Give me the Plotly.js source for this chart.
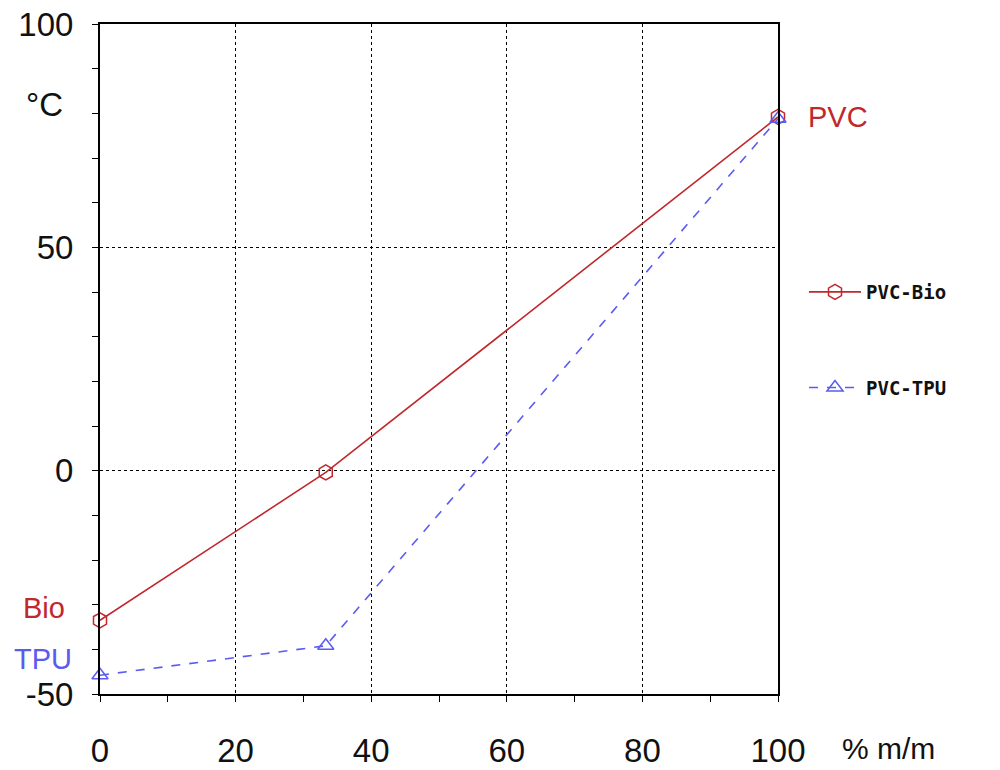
<!DOCTYPE html>
<html>
<head>
<meta charset="utf-8">
<script src="https://cdn.plot.ly/plotly-3.0.1.min.js"></script>
<style>html,body{margin:0;padding:0;background:#fff;}#chart{width:1000px;height:770px;}</style>
</head>
<body>
<div id="chart"></div>
<script>
var composition = [0, 33.3, 100];
var pvcBio = [-33.5, -0.4, 79.2];
var pvcTpu = [-45.8, -39.2, 78.8];
var seriesNames = ["PVC-Bio", "PVC-TPU"];
var xTicks = [0, 20, 40, 60, 80, 100];
var yTicks = [-50, 0, 50, 100];

var red = "#c0282d";
var blue = "#5b5bf0";
var L = 100, R = 778, T = 24, B = 694;
function px(x){ return (x - L) / (R - L); }
function py(y){ return (B - y) / (B - T); }

var traces = [
  {x: composition, y: pvcBio, name: seriesNames[0], type: "scatter", mode: "lines+markers",
   legendgroup: "a", cliponaxis: false,
   line: {color: red, width: 1.6},
   marker: {symbol: "hexagon-open", size: 15, color: red, line: {width: 1.5, color: red}}},
  {x: composition, y: pvcTpu, name: seriesNames[1], type: "scatter", mode: "lines+markers",
   legendgroup: "b", cliponaxis: false,
   line: {color: blue, width: 1.6, dash: "dash"},
   marker: {symbol: "triangle-up-open", size: 14, color: blue, line: {width: 1.5, color: blue}}}
];

var tickFont = {family: "Liberation Sans, Arial, sans-serif", size: 33, color: "#111"};
var layout = {
  width: 1000, height: 770,
  margin: {l: L, r: 1000 - R, t: T, b: 770 - B},
  paper_bgcolor: "#fff", plot_bgcolor: "#fff",
  showlegend: true,
  legend: {x: px(804), y: py(273), xanchor: "left", yanchor: "top",
           traceorder: "grouped", tracegroupgap: 68, itemwidth: 52,
           font: {family: "DejaVu Sans Mono, monospace", size: 19, color: "#111", weight: "bold"},
           bgcolor: "rgba(0,0,0,0)"},
  xaxis: {range: [0, 100], tickvals: xTicks, ticktext: xTicks.map(String),
          showline: true, linecolor: "#000", linewidth: 2, mirror: true,
          showgrid: true, gridcolor: "#000", griddash: "dot", gridwidth: 1,
          zeroline: false, ticks: "outside", ticklen: 6, tickcolor: "#000",
          minor: {dtick: 10, tick0: 0, ticks: "outside", ticklen: 6, tickcolor: "#000", showgrid: false},
          tickfont: tickFont, ticklabelstandoff: 20, fixedrange: true},
  yaxis: {range: [-50, 100], tickvals: yTicks, ticktext: yTicks.map(String),
          showline: true, linecolor: "#000", linewidth: 2, mirror: true,
          showgrid: true, gridcolor: "#000", griddash: "dot", gridwidth: 1,
          zeroline: false, ticks: "outside", ticklen: 6, tickcolor: "#000",
          minor: {dtick: 10, tick0: 0, ticks: "outside", ticklen: 6, tickcolor: "#000", showgrid: false},
          tickfont: tickFont, ticklabelstandoff: 12, fixedrange: true},
  annotations: [
    {text: "°C", xref: "paper", yref: "paper", x: px(44), y: py(104), showarrow: false,
     xanchor: "center", yanchor: "middle", font: {family: "Liberation Sans, Arial, sans-serif", size: 33, color: "#111"}},
    {text: "% m/m", xref: "paper", yref: "paper", x: px(888), y: py(749), showarrow: false,
     xanchor: "center", yanchor: "middle", font: {family: "Liberation Sans, Arial, sans-serif", size: 30, color: "#111"}},
    {text: "Bio", xref: "paper", yref: "paper", x: px(44), y: py(608), showarrow: false,
     xanchor: "center", yanchor: "middle", font: {family: "Liberation Sans, Arial, sans-serif", size: 29, color: red}},
    {text: "TPU", xref: "paper", yref: "paper", x: px(43), y: py(659), showarrow: false,
     xanchor: "center", yanchor: "middle", font: {family: "Liberation Sans, Arial, sans-serif", size: 29, color: blue}},
    {text: "PVC", xref: "paper", yref: "paper", x: px(838), y: py(117), showarrow: false,
     xanchor: "center", yanchor: "middle", font: {family: "Liberation Sans, Arial, sans-serif", size: 29, color: red}}
  ]
};

Plotly.newPlot("chart", traces, layout, {displayModeBar: false, staticPlot: true});
</script>
</body>
</html>
